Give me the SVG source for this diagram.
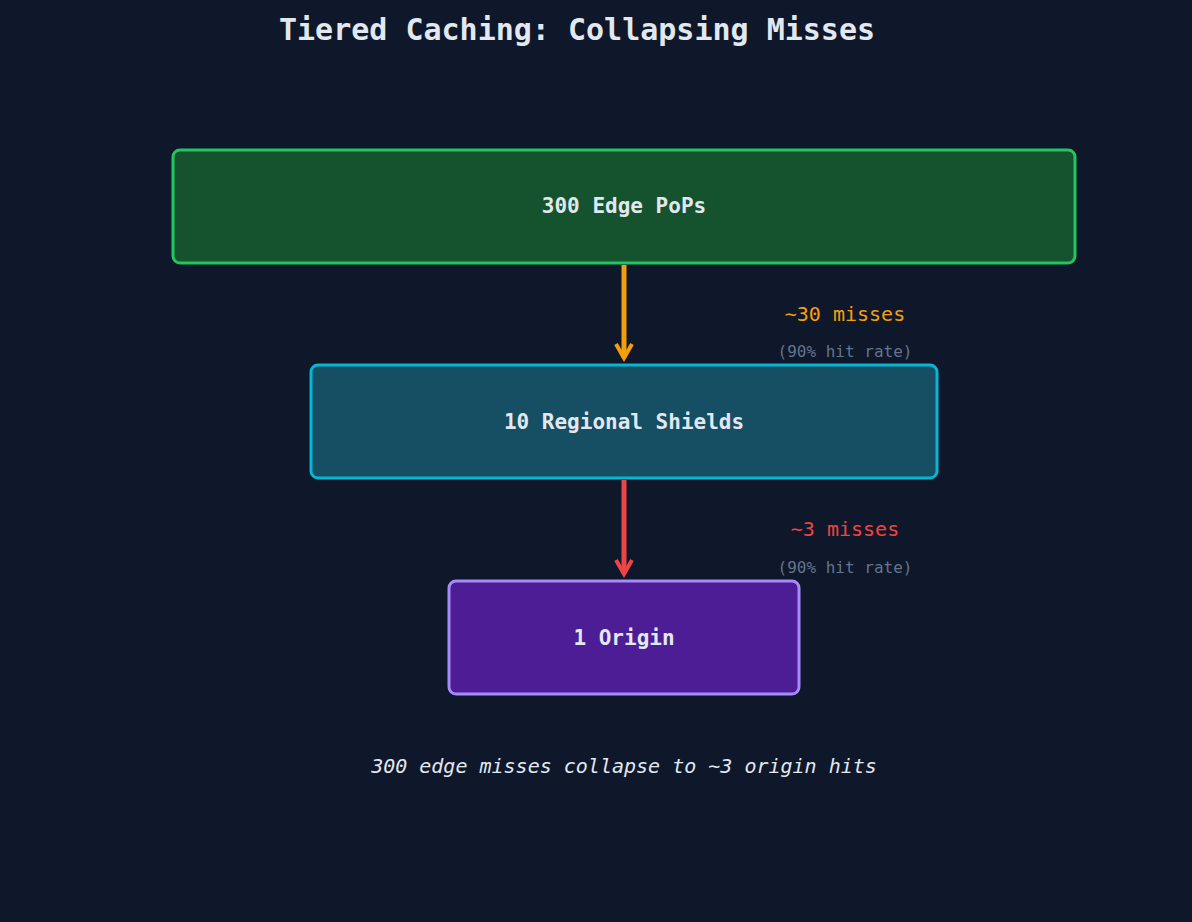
<svg xmlns="http://www.w3.org/2000/svg" width="1192" height="922" viewBox="0 0 1192 922">
<style>
.t{font-family:"DejaVu Sans Mono",monospace;font-weight:bold;fill:#e2e8f0;text-anchor:middle}
.l{font-family:"DejaVu Sans Mono",monospace;text-anchor:middle}
</style>
<defs>
<marker id="ao" viewBox="0 0 10 10" refX="8" refY="5" markerWidth="4" markerHeight="4" orient="auto"><path d="M1,1 L8,5 L1,9" fill="none" stroke="#f59e0b" stroke-width="2"/></marker>
<marker id="ar" viewBox="0 0 10 10" refX="8" refY="5" markerWidth="4" markerHeight="4" orient="auto"><path d="M1,1 L8,5 L1,9" fill="none" stroke="#ef4444" stroke-width="2"/></marker>
</defs>
<rect width="1192" height="922" fill="#0f172a"/>
<text class="t" x="577" y="40" font-size="30">Tiered Caching: Collapsing Misses</text>
<g id="edge"><rect x="173" y="150" width="902" height="113" rx="7" fill="#14532d" stroke="#22c55e" stroke-width="3"/><text class="t" x="624" y="213" font-size="21">300 Edge PoPs</text></g>
<g id="shield"><rect x="311" y="365" width="626" height="113" rx="7" fill="#164e63" stroke="#06b6d4" stroke-width="3"/><text class="t" x="624" y="429" font-size="21">10 Regional Shields</text></g>
<g id="origin"><rect x="449" y="581" width="350" height="113" rx="7" fill="#4c1d95" stroke="#a78bfa" stroke-width="3"/><text class="t" x="624" y="645" font-size="21">1 Origin</text></g>
<g id="connectors">
<line x1="624" y1="265" x2="624" y2="358" stroke="#f59e0b" stroke-width="5" marker-end="url(#ao)"/>
<line x1="624" y1="480" x2="624" y2="574" stroke="#ef4444" stroke-width="5" marker-end="url(#ar)"/>
<text class="l" x="845" y="321" font-size="20" fill="#f59e0b">~30 misses</text>
<text class="l" x="845" y="357" font-size="16" fill="#64748b">(90% hit rate)</text>
<text class="l" x="845" y="536" font-size="20" fill="#ef4444">~3 misses</text>
<text class="l" x="845" y="573" font-size="16" fill="#64748b">(90% hit rate)</text>
</g>
<text class="l" x="624" y="773" font-size="20" font-style="italic" fill="#e2e8f0">300 edge misses collapse to ~3 origin hits</text>
</svg>
